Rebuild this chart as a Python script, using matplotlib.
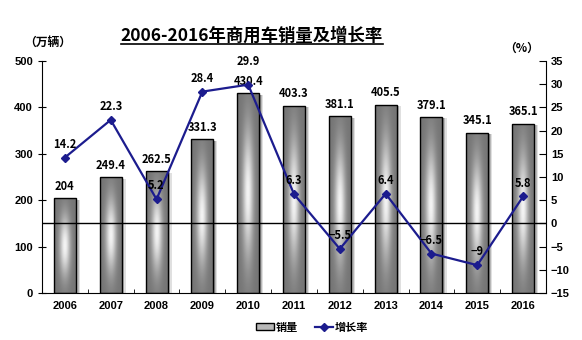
import matplotlib
matplotlib.use("Agg")
import matplotlib.pyplot as plt
import numpy as np
from matplotlib.lines import Line2D
from matplotlib.patches import Rectangle

years = ["2006", "2007", "2008", "2009", "2010", "2011", "2012", "2013", "2014", "2015", "2016"]
sales = [204, 249.4, 262.5, 331.3, 430.4, 403.3, 381.1, 405.5, 379.1, 345.1, 365.1]
growth = [14.2, 22.3, 5.2, 28.4, 29.9, 6.3, -5.5, 6.4, -6.5, -9, 5.8]

cjk = ["Noto Sans CJK SC", "DejaVu Sans"]
navy = "#1c1c8e"

fig = plt.figure(figsize=(5.82, 3.4), dpi=100)
ax = fig.add_axes([42 / 582, 47 / 340, 504 / 582, 232 / 340])
ax2 = ax.twinx()
ax.set_zorder(1)
ax2.set_zorder(2)
ax.patch.set_visible(False)

x = np.arange(len(years))
bw = 0.48

# gradient fill for bars: light centre fading to grey at edges
u = np.linspace(-1, 1, 60)
v = np.linspace(-1, 1, 120)
U, V = np.meshgrid(u, v)
light = np.exp(-(U / 0.5) ** 2) * np.exp(-(V / 0.65) ** 2)
shade = 0.46 + 0.5 * light
grad = np.dstack([shade, shade, shade])

for xi, s in zip(x, sales):
    # soft drop shadow on the right
    for k, a in zip([0.09, 0.06, 0.03], [0.12, 0.18, 0.25]):
        ax.add_patch(Rectangle((xi - bw / 2 + k, 0), bw, s - 3, color="black",
                               alpha=a, lw=0, zorder=1))
    rect = Rectangle((xi - bw / 2, 0), bw, s, facecolor="none",
                     edgecolor="black", lw=1, zorder=3)
    ax.add_patch(rect)
    im = ax.imshow(grad, extent=(xi - bw / 2, xi + bw / 2, 0, s),
                   aspect="auto", zorder=2, interpolation="bicubic")
    im.set_clip_path(rect)
    ax.annotate(f"{s:g}", (xi, s), xytext=(0, 4), textcoords="offset points",
                ha="center", va="bottom", fontsize=8, fontweight="bold",
                family=cjk, zorder=5)

ax.set_xlim(-0.5, len(years) - 0.5)
ax.set_ylim(0, 500)
ax.set_yticks(range(0, 501, 100))
ax.set_xticks(x)
ax.set_xticklabels(years)
ax.set_xticks(np.arange(-0.5, len(years), 1), minor=True)
ax.tick_params(axis="x", which="major", length=0, pad=6)
ax.tick_params(axis="x", which="minor", direction="in", length=3)
ax.tick_params(axis="y", direction="inout", length=6)

ax2.axhline(0, color="black", lw=1, zorder=1)
ax2.plot(x, growth, color=navy, lw=1.6, marker="D", markersize=4.5, zorder=4)
peak = max(growth)
for xi, g in zip(x, growth):
    # the peak label sits higher so it clears the bar value below it
    dy = 12 if g == peak else 5
    ax2.annotate(f"{g:g}".replace("-", "−"), (xi, g), xytext=(0, dy),
                 textcoords="offset points", ha="center", va="bottom",
                 fontsize=8, fontweight="bold", family=cjk, zorder=5)
ax2.set_ylim(-15, 35)
ax2.set_yticks(range(-15, 36, 5))
ax2.tick_params(axis="y", direction="in", length=5)

for a in (ax, ax2):
    a.spines["top"].set_visible(False)
    for lab in a.get_xticklabels() + a.get_yticklabels():
        lab.set_fontfamily("Liberation Sans")
        lab.set_fontweight("bold")
        lab.set_fontsize(8)
ax2.spines["left"].set_visible(False)
ax2.spines["bottom"].set_visible(False)
ax.spines["right"].set_visible(False)

fig.text(24 / 582, 1 - 42 / 340, "（万辆）", family=cjk, fontsize=8.5,
         fontweight="bold", ha="left", va="center")
fig.text(522 / 582, 1 - 48 / 340, "（%）", family=cjk, fontsize=8.5,
         fontweight="bold", ha="center", va="center")

title = fig.text(252 / 582, 1 - 36 / 340, "2006-2016年商用车销量及增长率",
                 family=cjk, fontsize=12.5, fontweight="bold",
                 ha="center", va="center")
fig.canvas.draw()
bb = title.get_window_extent()
fig.add_artist(Line2D([bb.x0 / 582, bb.x1 / 582],
                      [(bb.y0 + 1) / 340, (bb.y0 + 1) / 340],
                      transform=fig.transFigure, color="black", lw=1.2))

# legend
bar_handle = Rectangle((0, 0), 1, 1, facecolor="#b8b8b8", edgecolor="black", lw=1)
line_handle = Line2D([], [], color=navy, lw=1.6, marker="D", markersize=4.5)
fig.legend([bar_handle, line_handle], ["销量", "增长率"], loc="center",
           bbox_to_anchor=(312 / 582, 1 - 327 / 340), ncol=2, frameon=False,
           prop={"family": cjk, "weight": "bold", "size": 8},
           handlelength=1.6, handleheight=0.6, handletextpad=0.2,
           columnspacing=1.5)

fig.savefig("out.png", dpi=100)
